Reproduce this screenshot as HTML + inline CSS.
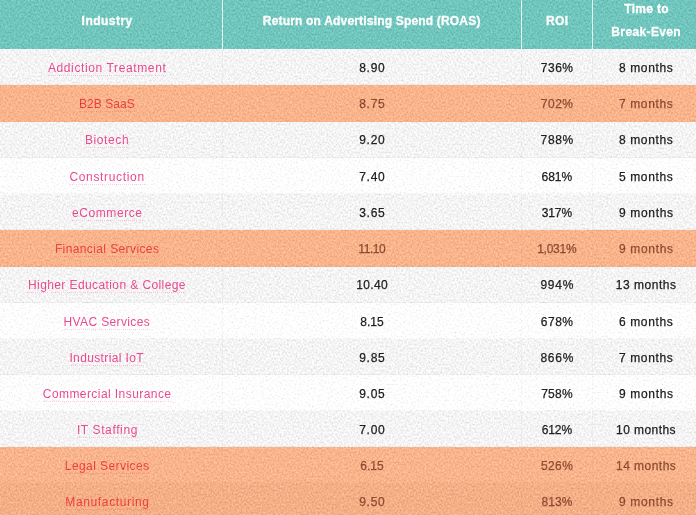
<!DOCTYPE html>
<html><head><meta charset="utf-8"><title>Table</title>
<style>
html,body{margin:0;padding:0;}
body{width:696px;height:515px;overflow:hidden;position:relative;background:#fff;font-family:"Liberation Sans",sans-serif;}
#w{position:absolute;left:0;top:0;width:696px;height:515px;overflow:hidden;background:#ffffff;filter:url(#n);}
.hd{position:absolute;left:0;top:0;width:696px;height:49px;background:#70c6bc;}
.hd b{position:absolute;color:#fff;font-weight:bold;font-size:12px;line-height:14px;height:14px;white-space:nowrap;-webkit-text-stroke:0.3px #fff;}
.hd i{position:absolute;top:0;width:1px;height:49px;background:rgba(255,255,255,.78);}
.g{position:absolute;left:0;width:696px;background:#f4f4f4;}
.ln{position:absolute;background:rgba(0,0,0,.03);}
.og{position:absolute;left:0;width:696px;background:rgba(244,122,52,.565);}
.r{position:absolute;left:0;width:696px;height:36.18px;}
.r span{position:absolute;top:0;height:36px;line-height:36px;font-size:12px;color:#202020;white-space:nowrap;-webkit-text-stroke:0.25px currentColor;}
.r .a{color:#ea4a90;-webkit-text-stroke:0;}
.r .a a{text-decoration:none;display:inline-block;line-height:14px;border-bottom:1px dotted rgba(234,74,144,.26);}
.r.o span{color:#8c4c32;}
.r.o .a{color:#ec423c;}
.r.o .a a{border-bottom-color:rgba(236,66,60,.26);}
</style></head><body>
<svg width="0" height="0" style="position:absolute"><defs><filter id="n" x="0" y="0" width="100%" height="100%" color-interpolation-filters="sRGB"><feTurbulence type="fractalNoise" baseFrequency="0.56 0.5" numOctaves="2" seed="7" result="t"/><feColorMatrix in="t" type="matrix" values="1.2 0 0 0 -0.1  1.2 0 0 0 -0.1  1.2 0 0 0 -0.1  0 0 0 0 1" result="g"/><feComposite in="SourceGraphic" in2="g" operator="arithmetic" k1="0" k2="1" k3="0.2" k4="-0.1"/></filter></defs></svg>
<div id="w">
<div class="hd">

<b style="left:81.6px;top:14.0px;letter-spacing:0.479px">Industry</b>
<b style="left:262.8px;top:14.0px;letter-spacing:0.183px">Return on Advertising Spend (ROAS)</b>
<b style="left:546.0px;top:14.0px;letter-spacing:0.378px">ROI</b>
<b style="left:624.3px;top:2.3px;letter-spacing:0.308px">Time to</b>
<b style="left:611.3px;top:24.8px;letter-spacing:0.373px">Break-Even</b>
<i style="left:222px"></i><i style="left:521px"></i><i style="left:592px"></i>
</div>
<div class="g" style="top:49px;height:36px"></div>
<div class="g" style="top:122px;height:36px"></div>
<div class="g" style="top:194px;height:36px"></div>
<div class="g" style="top:266px;height:37px"></div>
<div class="g" style="top:339px;height:36px"></div>
<div class="g" style="top:411px;height:36px"></div>
<div class="g" style="top:483px;height:32px"></div>
<div class="ln" style="left:0;width:696px;height:1px;top:84px"></div>
<div class="ln" style="left:0;width:696px;height:1px;top:121px"></div>
<div class="ln" style="left:0;width:696px;height:1px;top:157px"></div>
<div class="ln" style="left:0;width:696px;height:1px;top:193px"></div>
<div class="ln" style="left:0;width:696px;height:1px;top:229px"></div>
<div class="ln" style="left:0;width:696px;height:1px;top:265px"></div>
<div class="ln" style="left:0;width:696px;height:1px;top:302px"></div>
<div class="ln" style="left:0;width:696px;height:1px;top:338px"></div>
<div class="ln" style="left:0;width:696px;height:1px;top:374px"></div>
<div class="ln" style="left:0;width:696px;height:1px;top:410px"></div>
<div class="ln" style="left:0;width:696px;height:1px;top:446px"></div>
<div class="ln" style="left:0;width:696px;height:1px;top:482px"></div>
<div class="ln" style="left:222px;width:1px;top:49px;height:466px"></div>
<div class="ln" style="left:521px;width:1px;top:49px;height:466px"></div>
<div class="ln" style="left:592px;width:1px;top:49px;height:466px"></div>
<div class="og" style="top:85px;height:37px"></div>
<div class="og" style="top:230px;height:37px"></div>
<div class="og" style="top:447px;height:68px"></div>
<div class="r" style="top:50px"><span class="a" style="left:47.9px;letter-spacing:0.620px"><a>Addiction Treatment</a></span><span style="left:359.2px;letter-spacing:0.747px">8.90</span><span style="left:540.8px;letter-spacing:0.499px">736%</span><span style="left:618.9px;letter-spacing:0.649px">8 months</span></div>
<div class="r o" style="top:86px"><span class="a" style="left:79.0px;letter-spacing:0.061px"><a>B2B SaaS</a></span><span style="left:359.2px;letter-spacing:0.747px">8.75</span><span style="left:540.8px;letter-spacing:0.499px">702%</span><span style="left:618.9px;letter-spacing:0.649px">7 months</span></div>
<div class="r" style="top:122px"><span class="a" style="left:84.9px;letter-spacing:0.611px"><a>Biotech</a></span><span style="left:359.2px;letter-spacing:0.747px">9.20</span><span style="left:540.6px;letter-spacing:0.632px">788%</span><span style="left:618.9px;letter-spacing:0.649px">8 months</span></div>
<div class="r" style="top:159px"><span class="a" style="left:69.4px;letter-spacing:0.666px"><a>Construction</a></span><span style="left:359.2px;letter-spacing:0.747px">7.40</span><span style="left:541.6px;letter-spacing:-0.034px">681%</span><span style="left:618.9px;letter-spacing:0.649px">5 months</span></div>
<div class="r" style="top:195px"><span class="a" style="left:72.0px;letter-spacing:0.580px"><a>eCommerce</a></span><span style="left:359.2px;letter-spacing:0.747px">3.65</span><span style="left:541.7px;letter-spacing:-0.101px">317%</span><span style="left:618.9px;letter-spacing:0.677px">9 months</span></div>
<div class="r o" style="top:231px"><span class="a" style="left:54.9px;letter-spacing:0.390px"><a>Financial Services</a></span><span style="left:358.3px;letter-spacing:-0.435px">11.10</span><span style="left:537.2px;letter-spacing:-0.261px">1,031%</span><span style="left:618.9px;letter-spacing:0.677px">9 months</span></div>
<div class="r" style="top:267px"><span class="a" style="left:28.0px;letter-spacing:0.403px"><a>Higher Education &amp; College</a></span><span style="left:356.2px;letter-spacing:0.367px">10.40</span><span style="left:540.4px;letter-spacing:0.799px">994%</span><span style="left:615.7px;letter-spacing:0.544px">13 months</span></div>
<div class="r" style="top:304px"><span class="a" style="left:63.5px;letter-spacing:0.375px"><a>HVAC Services</a></span><span style="left:360.2px;letter-spacing:0.080px">8.15</span><span style="left:540.8px;letter-spacing:0.499px">678%</span><span style="left:618.9px;letter-spacing:0.649px">6 months</span></div>
<div class="r" style="top:340px"><span class="a" style="left:69.4px;letter-spacing:0.371px"><a>Industrial IoT</a></span><span style="left:359.2px;letter-spacing:0.747px">9.85</span><span style="left:540.4px;letter-spacing:0.766px">866%</span><span style="left:618.9px;letter-spacing:0.649px">7 months</span></div>
<div class="r" style="top:376px"><span class="a" style="left:42.8px;letter-spacing:0.429px"><a>Commercial Insurance</a></span><span style="left:359.2px;letter-spacing:0.747px">9.05</span><span style="left:541.2px;letter-spacing:0.232px">758%</span><span style="left:618.9px;letter-spacing:0.677px">9 months</span></div>
<div class="r" style="top:412px"><span class="a" style="left:76.9px;letter-spacing:0.623px"><a>IT Staffing</a></span><span style="left:359.2px;letter-spacing:0.747px">7.00</span><span style="left:541.7px;letter-spacing:-0.101px">612%</span><span style="left:616.1px;letter-spacing:0.432px">10 months</span></div>
<div class="r o" style="top:448px"><span class="a" style="left:64.8px;letter-spacing:0.422px"><a>Legal Services</a></span><span style="left:360.2px;letter-spacing:0.080px">6.15</span><span style="left:540.9px;letter-spacing:0.432px">526%</span><span style="left:616.0px;letter-spacing:0.469px">14 months</span></div>
<div class="r o" style="top:484px"><span class="a" style="left:65.3px;letter-spacing:0.638px"><a>Manufacturing</a></span><span style="left:359.2px;letter-spacing:0.747px">9.50</span><span style="left:541.4px;letter-spacing:0.099px">813%</span><span style="left:618.9px;letter-spacing:0.677px">9 months</span></div>
</div>
</body></html>
